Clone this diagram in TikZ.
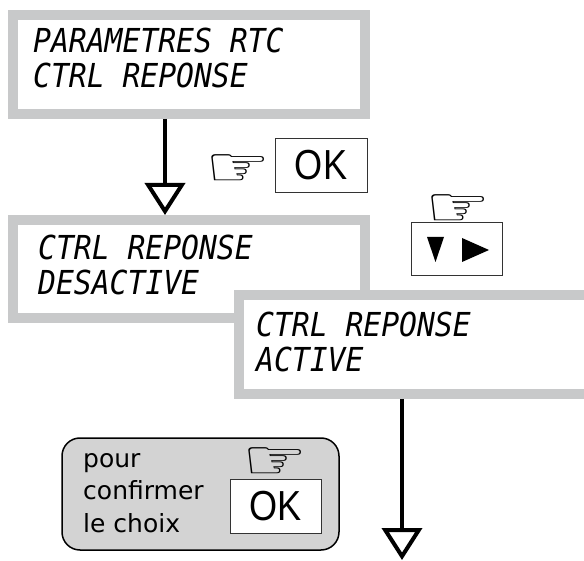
\documentclass[tikz,border=0pt]{standalone}
\usepackage{fontspec}
\newfontfamily\lcdfont[FakeStretch=0.9]{DejaVu Sans Mono}
\newfontfamily\keyfont[FakeStretch=0.86]{Liberation Sans}
\newfontfamily\symbfont{DejaVu Sans}
\usetikzlibrary{arrows.meta}
\definecolor{framegray}{RGB}{200,201,202}
\definecolor{notegray}{RGB}{211,211,211}

\begin{document}
\begin{tikzpicture}[x=1pt,y=-1pt,
    lcd/.style={draw=framegray,line width=10pt,fill=white,outer sep=5pt,inner sep=0pt},
    lcdtext/.style={anchor=base west,inner sep=0pt,font=\lcdfont\itshape\fontsize{33}{33}\selectfont},
    key/.style={draw=black!80,line width=0.8pt,fill=white,inner sep=0pt,font=\keyfont\fontsize{42}{42}\selectfont},
    hand/.style={inner sep=0pt,font=\symbfont\fontsize{56}{56}\selectfont},
    flow/.style={line width=4.5pt,-{Triangle[open,width=40pt,length=32pt,line width=4pt]}}]
      \useasboundingbox (0,0) rectangle (584,561);
      \clip (0,0) rectangle (584,561);

      % display frames
      \node[lcd,minimum width=352.5pt,minimum height=99pt] (rtc) at (188.75,64.5) {};
      \node[lcd,minimum width=352.5pt,minimum height=98pt] (off) at (188.75,269) {};
      \node[lcd,minimum width=361pt,minimum height=98.5pt] (on) at (419.5,344.75) {};

      \node[lcdtext] (rtc1) at (33,53) {PARAMETRES RTC};
      \node[lcdtext] (rtc2) at (33,88) {CTRL REPONSE};
      \node[lcdtext] (off1) at (38,260) {CTRL REPONSE};
      \node[lcdtext] (off2) at (38,295) {DESACTIVE};
      \node[lcdtext] (on1) at (256,337) {CTRL REPONSE};
      \node[lcdtext] (on2) at (256,372) {ACTIVE};

      % keys
      \node[hand] (handok) at (238,171) {\scalebox{1.3}[1]{☞}};
      \node[key,minimum width=92pt,minimum height=54pt] (ok) at (321,165) {OK};
      \node[hand] (handarr) at (458,211) {\scalebox{1.3}[1]{☞}};
      \node[key,minimum width=91pt,minimum height=53pt] (arrows) at (456.5,248.5) {};
      \fill (427,237) -- (444,237) -- (435.5,262) -- cycle;
      \fill (462,238) -- (489,250) -- (462,262) -- cycle;

      % arrows
      \coordinate (end) at (402,560);
      \draw[flow] (rtc.south -| 165,0) -- (off.north -| 165,0);
      \draw[flow] (on.south -| end) -- (end);

      % note
      \node[draw,line width=1.5pt,fill=notegray,rounded corners=18pt,minimum width=277pt,minimum height=112pt] (note) at (200.5,494) {};
      \foreach \t/\y in {pour/467,confirmer/499,le choix/532} {
        \node[anchor=base west,inner sep=0pt,font=\symbfont\fontsize{25}{25}\selectfont] (note\y) at (83,\y) {\t};
      }
      \node[hand] (handnote) at (275,464) {\scalebox{1.3}[1]{☞}};
      \node[key,minimum width=91pt,minimum height=54pt] (oknote) at (275.5,506) {OK};
    \end{tikzpicture}
\end{document}
